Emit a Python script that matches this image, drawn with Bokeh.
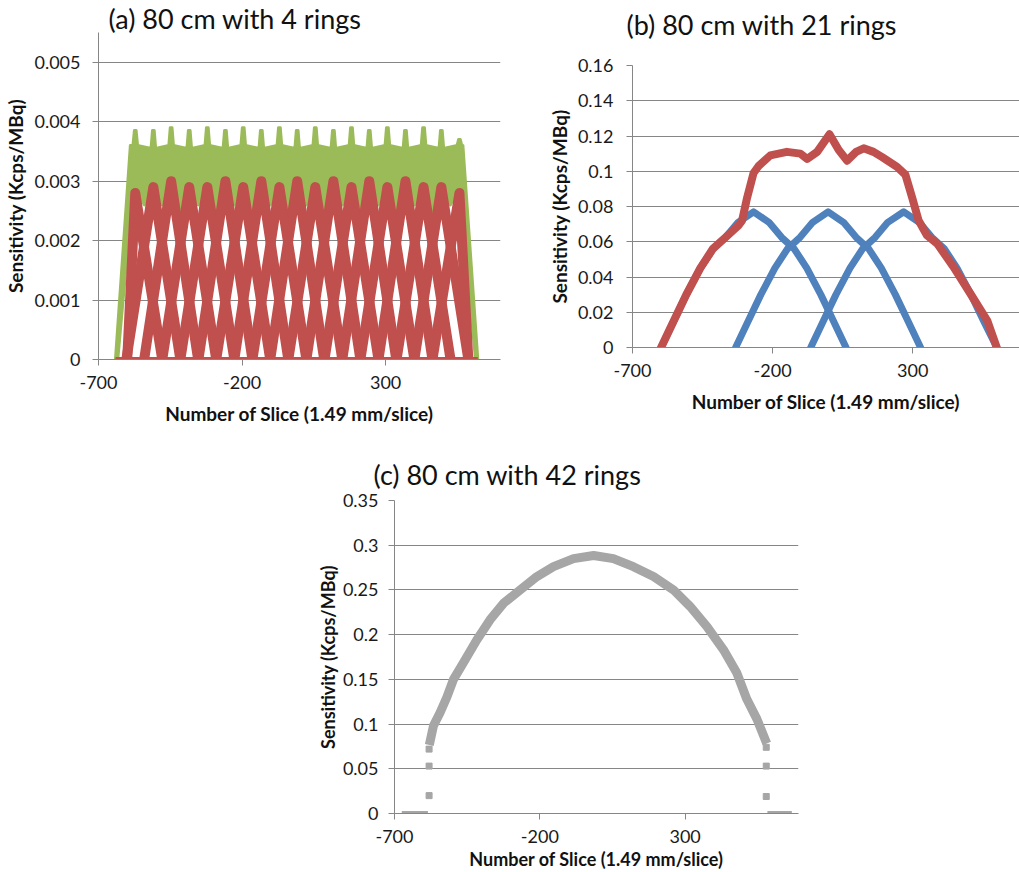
from bokeh.plotting import figure
from bokeh.models import Range1d, FixedTicker, CustomJSTickFormatter, Spacer, Title
from bokeh.layouts import column, row
from bokeh.embed import file_html
from bokeh.resources import INLINE

# ---------------- data ----------------
x_ticks = [-700, -200, 300]

# (a) 80 cm with 4 rings
a_yticks = [0, 0.001, 0.002, 0.003, 0.004, 0.005]
a_peaks_x = [-572, -509, -447, -384, -321, -258, -196, -133, -70, -8,
             55, 118, 181, 243, 306, 369, 432, 494, 557]
a_red_peak_y = [0.0028, 0.0029, 0.0030, 0.0029, 0.0029, 0.0030, 0.0029, 0.0030, 0.0029, 0.0030,
                0.0029, 0.0030, 0.0029, 0.0030, 0.0029, 0.0030, 0.0029, 0.0029, 0.0028]
a_red_start = [-600, -603, -541, -478, -415, -352, -290, -227, -164, -102,
               -39, 24, 87, 149, 212, 275, 338, 400, 463]
a_red_end = [-478, -415, -353, -290, -227, -164, -102, -39, 24, 86,
             149, 212, 275, 337, 400, 463, 526, 588, 588]
a_red_base_x = [-641, 621]
a_red_base_y = [0, 0]
a_green_edge_x = [-641, -589, 569, 621]      # outer ramp corners
a_green_edge_y = [0, 0.0036, 0.0036, 0]
a_green_spike = [0.00385, 0.00385, 0.0039, 0.00385, 0.0039, 0.00385, 0.0039, 0.00385, 0.0039, 0.00385,
                 0.0039, 0.00385, 0.0039, 0.00385, 0.0039, 0.00385, 0.0039, 0.00385, 0.0037]
a_green_plateau = [0.0036, 0.00355, 0.0036, 0.00355, 0.0036, 0.00355, 0.0036, 0.00355, 0.0036, 0.00355,
                   0.0036, 0.00355, 0.0036, 0.00355, 0.0036, 0.00355, 0.0036, 0.00355, 0.0036]
a_green_floor = [0.0029, 0.0030, 0.0030, 0.0030, 0.0030, 0.0030, 0.0030, 0.0030, 0.0030, 0.0030,
                 0.0030, 0.0030, 0.0030, 0.0030, 0.0030, 0.0030, 0.0030, 0.0030, 0.0029]
a_green_dip = [0.0026, 0.0026, 0.00245, 0.0026, 0.00245, 0.0026, 0.00245, 0.0026, 0.00245,
               0.0026, 0.00245, 0.0026, 0.00245, 0.0026, 0.00245, 0.0026, 0.00245, 0.0026]
a_green_inner_x = [-633, -583, 563, 613]
a_green_inner_y = [0, 0.0027, 0.0027, 0]

# (b) 80 cm with 21 rings
b_yticks = [0, 0.02, 0.04, 0.06, 0.08, 0.1, 0.12, 0.14, 0.16]
b_red_x = [-598, -553, -508, -458, -413, -368, -323, -309, -291, -268, -250, -208, -149, -101, -77,
           -41, 3, 36, 66, 98, 125, 160, 191, 244, 274, 298, 321, 351, 387, 446, 506, 566, 600]
b_red_y = [0, 0.015, 0.030, 0.045, 0.056, 0.0625, 0.069, 0.072, 0.085, 0.099, 0.103, 0.109, 0.111,
           0.110, 0.107, 0.111, 0.121, 0.112, 0.106, 0.111, 0.113, 0.111, 0.108, 0.1025, 0.098,
           0.085, 0.072, 0.0636, 0.059, 0.0456, 0.0305, 0.0153, 0]
b_blue1_x = [-598, -553, -508, -458, -413, -368, -323, -268, -213, -168, -123, -78, -28, 17, 62]
b_blue2_x = [-332, -287, -242, -192, -147, -102, -57, -2, 53, 98, 143, 188, 238, 283, 328]
b_blue3_x = [-64, -19, 26, 76, 121, 166, 211, 268, 323, 368, 413, 458, 508, 553, 600]
b_blue_y = [0, 0.015, 0.030, 0.045, 0.056, 0.0625, 0.071, 0.077, 0.071, 0.0625, 0.056, 0.045, 0.030, 0.015, 0]

# (c) 80 cm with 42 rings
c_yticks = [0, 0.05, 0.1, 0.15, 0.2, 0.25, 0.3, 0.35]
c_gray_x = [-577, -566, -543, -520, -497, -463, -417, -371, -325, -268, -210, -153, -84, -15,
            53, 122, 191, 260, 317, 375, 432, 478, 512, 547, 575]
c_gray_y = [0.0815, 0.098, 0.113, 0.130, 0.150, 0.1685, 0.194, 0.2167, 0.235, 0.25, 0.265, 0.276,
            0.285, 0.2885, 0.285, 0.276, 0.265, 0.25, 0.2315, 0.209, 0.183, 0.157, 0.128, 0.1055, 0.083]
c_zero_left_x = [-675, -585]
c_zero_right_x = [583, 667]
c_zero_y = [0, 0]
c_jump_x = [-581, -581, -581, 579, 579, 579]
c_jump_y = [0.02, 0.053, 0.072, 0.019, 0.053, 0.074]

# ---------------- styling ----------------
RED = "#C0504D"
BLUE = "#4F81BD"
GREEN = "#9BBB59"
GRAY = "#A6A6A6"
AX = "#868686"
FONT = "Lato"

yfmt = "if (tick == 0) { return '0'; } return String(parseFloat(tick.toFixed(6)));"
xfmt = "return String(Math.round(tick));"


def make_fig(w, h, xr, yr, ml, mr, mt, mb, title, t_off, t_stand, t_valign, yticks,
             lab_size="19px", tick_stand_x=10, lab_stand_x=10, tick_stand_y=12, lab_stand_y=4):
    p = figure(width=w, height=h, x_range=Range1d(*xr), y_range=Range1d(*yr),
               output_backend="svg", toolbar_location=None,
               min_border_left=ml, min_border_right=mr, min_border_top=mt, min_border_bottom=mb,
               title=title)
    p.outline_line_color = None
    p.background_fill_color = "white"
    p.border_fill_color = "white"
    p.title.text_font = FONT
    p.title.text_font_size = "27px"
    p.title.text_font_style = "normal"
    p.title.text_color = "#111111"
    p.title.align = "left"
    p.title.vertical_align = t_valign
    p.title.offset = t_off
    p.title.standoff = t_stand
    p.xgrid.visible = False
    p.ygrid.grid_line_color = AX
    p.ygrid.grid_line_width = 1
    p.xaxis.ticker = FixedTicker(ticks=x_ticks)
    p.yaxis.ticker = FixedTicker(ticks=yticks)
    p.xaxis.formatter = CustomJSTickFormatter(code=xfmt)
    p.yaxis.formatter = CustomJSTickFormatter(code=yfmt)
    for ax in (p.xaxis, p.yaxis):
        ax.axis_line_color = AX
        ax.major_tick_line_color = AX
        ax.major_tick_out = 6
        ax.major_tick_in = 0
        ax.minor_tick_out = 0
        ax.minor_tick_in = 0
        ax.major_label_text_font = FONT
        ax.major_label_text_font_size = "18px"
        ax.major_label_text_color = "#1a1a1a"
        ax.axis_label_text_font = FONT
        ax.axis_label_text_font_size = lab_size
        ax.axis_label_text_font_style = "bold"
        ax.axis_label_text_color = "#111111"
    p.xaxis.axis_label = "Number of Slice (1.49 mm/slice)"
    p.yaxis.axis_label = "Sensitivity (Kcps/MBq)"
    p.xaxis.major_label_standoff = tick_stand_x
    p.xaxis.axis_label_standoff = lab_stand_x
    p.yaxis.major_label_standoff = tick_stand_y
    p.yaxis.axis_label_standoff = lab_stand_y
    return p


# ---------------- (a) ----------------
pa = make_fig(510, 440, (-700, 700), (0, 0.0055), 98, 10, 32, 81,
              "(a) 80 cm with 4 rings", 10, -4, "bottom", a_yticks)

ux = [a_green_edge_x[0], a_green_edge_x[1]]
uy = [a_green_edge_y[0], a_green_edge_y[1]]
for k, pk in enumerate(a_peaks_x):
    ux += [pk - 8, pk - 3, pk + 3, pk + 8]
    uy += [a_green_plateau[k], a_green_spike[k], a_green_spike[k], a_green_plateau[k]]
ux += [a_green_edge_x[2], a_green_edge_x[3]]
uy += [a_green_edge_y[2], a_green_edge_y[3]]
lx = [a_green_inner_x[3], a_green_inner_x[2]]
ly = [a_green_inner_y[3], a_green_inner_y[2]]
n = len(a_peaks_x)
for k in range(n - 1, -1, -1):
    lx.append(a_peaks_x[k])
    ly.append(a_green_floor[k])
    if k > 0:
        lx.append((a_peaks_x[k] + a_peaks_x[k - 1]) / 2)
        ly.append(a_green_dip[k - 1])
lx += [a_green_inner_x[1], a_green_inner_x[0]]
ly += [a_green_inner_y[1], a_green_inner_y[0]]
pa.patch(ux + lx, uy + ly, fill_color=GREEN, line_color=GREEN, line_width=3, line_join="round")

red_xs = [[s, pk, e] for s, pk, e in zip(a_red_start, a_peaks_x, a_red_end)]
red_ys = [[0, h, 0] for h in a_red_peak_y]
pa.multi_line(red_xs, red_ys, line_color=RED, line_width=10, line_join="round", line_cap="round")
pa.line(a_red_base_x, a_red_base_y, line_color=RED, line_width=5)

# ---------------- (b) ----------------
pb = make_fig(509, 440, (-700, 681), (0, 0.16), 122, 0, 65, 93,
              "(b) 80 cm with 21 rings", -6, 0, "bottom", b_yticks, tick_stand_y=13)
pb.add_layout(Title(text=" ", text_font=FONT, text_font_size="19px", standoff=0), "above")
for bx in (b_blue1_x, b_blue2_x, b_blue3_x):
    pb.line(bx, b_blue_y, line_color=BLUE, line_width=7, line_join="round", line_cap="round")
pb.line(b_red_x, b_red_y, line_color=RED, line_width=8, line_join="round", line_cap="round")

# ---------------- (c) ----------------
pc = make_fig(520, 432, (-700, 690), (0, 0.35), 94, 22, 60, 57,
              "(c) 80 cm with 42 rings", -21, 20, "bottom", c_yticks, lab_size="18px",
              tick_stand_x=10, lab_stand_x=2, tick_stand_y=10, lab_stand_y=1)
pc.line(c_gray_x, c_gray_y, line_color=GRAY, line_width=9, line_join="round", line_cap="square")
pc.line(c_zero_left_x, c_zero_y, line_color=GRAY, line_width=5)
pc.line(c_zero_right_x, c_zero_y, line_color=GRAY, line_width=5)
pc.scatter(c_jump_x, c_jump_y, marker="square", size=6, fill_color=GRAY, line_color=GRAY)

layout = column(row(column(pa), column(pb)), row(Spacer(width=300, height=432), column(pc)))

with open("out.html", "w") as f:
    f.write(file_html(layout, INLINE))
